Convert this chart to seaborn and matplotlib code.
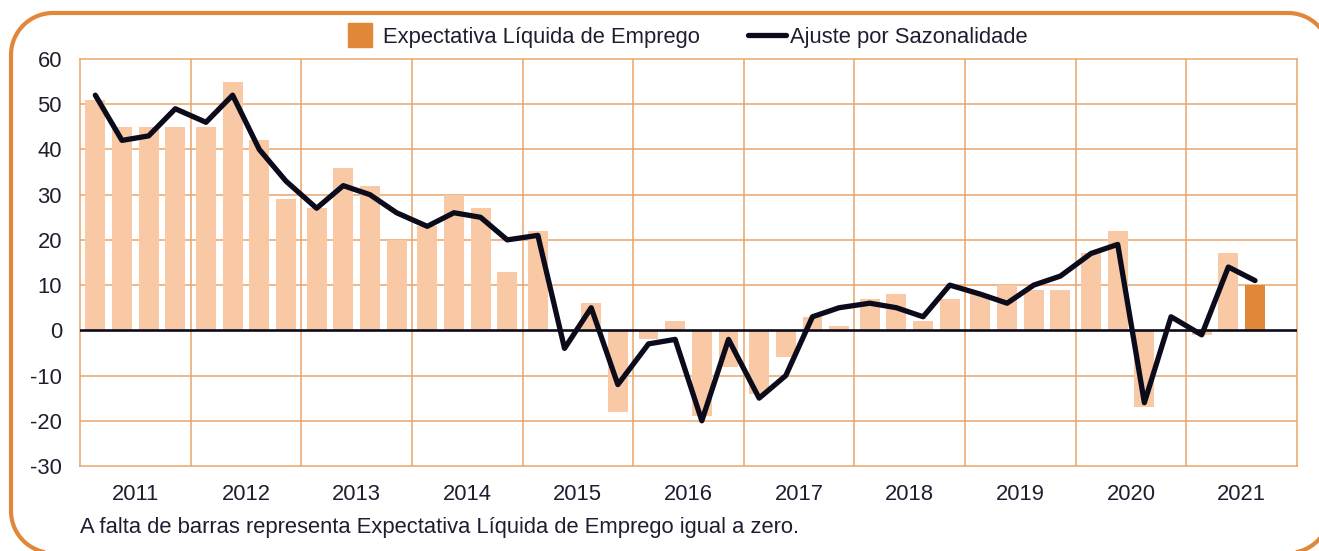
import numpy as np
import pandas as pd
import matplotlib
matplotlib.use("Agg")
import matplotlib.pyplot as plt
import matplotlib.transforms as mtransforms
from matplotlib.lines import Line2D
import seaborn as sns

# ---- data ----
years = ["2011", "2012", "2013", "2014", "2015", "2016", "2017", "2018", "2019", "2020", "2021"]
net_outlook = [51, 45, 45, 45,
               45, 55, 42, 29,
               27, 36, 32, 20,
               23, 30, 27, 13,
               22, 0, 6, -18,
               -2, 2, -19, -8,
               -14, -6, 3, 1,
               7, 8, 2, 7,
               8, 10, 9, 9,
               17, 22, -17, 0,
               -1, 17, 10]
seasonal_adj = [52, 42, 43, 49,
                46, 52, 40, 33,
                27, 32, 30, 26,
                23, 26, 25, 20,
                21, -4, 5, -12,
                -3, -2, -20, -2,
                -15, -10, 3, 5,
                6, 5, 3, 10,
                8, 6, 10, 12,
                17, 19, -16, 3,
                -1, 14, 11]
legend_labels = ["Expectativa Líquida de Emprego", "Ajuste por Sazonalidade"]
footnote = "A falta de barras representa Expectativa Líquida de Emprego igual a zero."
yticks = list(range(-30, 61, 10))

# ---- styling ----
LIGHT = "#F8C9A4"
DARK = "#E0873A"
GRID = "#EAA46A"
LINE = "#0B0B1C"
TEXT = "#1E1E30"
W, H = 1319, 551
FS = 15.8

sns.set_style("white")
plt.rcParams["font.family"] = ["Liberation Sans", "DejaVu Sans"]
plt.rcParams["axes.unicode_minus"] = False

n = len(net_outlook)
year_idx = np.arange(n) // 4
quarter = np.arange(n) % 4
xpos = year_idx + 0.5 + (quarter - 1.5) * 0.241
df = pd.DataFrame({
    "x": np.round(xpos, 4),
    "bar": net_outlook,
    "line": seasonal_adj,
    "hl": ["last" if i == n - 1 else "other" for i in range(n)],
})

fig = plt.figure(figsize=(W / 100, H / 100), dpi=100)
ax = fig.add_axes([80 / W, 1 - 466 / H, 1217 / W, 407 / H])

sns.barplot(data=df, x="x", y="bar", hue="hl", palette={"other": LIGHT, "last": DARK},
            native_scale=True, orient="x", dodge=False, width=0.747, saturation=1,
            errorbar=None, legend=False, ax=ax, zorder=2, linewidth=0)
ax.axhline(0, color=LINE, lw=1.9, zorder=3)
sns.lineplot(data=df, x="x", y="line", color=LINE, lw=3.8, ax=ax, zorder=4,
             solid_joinstyle="round", solid_capstyle="round", sort=False)

ax.set_xlim(0, len(years))
ax.set_ylim(-30, 60)
ax.set_yticks(yticks)
ax.set_yticklabels([str(v) for v in yticks])
ax.set_xticks(np.arange(len(years)) + 0.5)
ax.set_xticklabels(years)
ax.tick_params(axis="both", length=0, labelsize=FS, colors=TEXT)
ax.tick_params(axis="y", pad=13)
ax.tick_params(axis="x", pad=13)
ax.set_xlabel("")
ax.set_ylabel("")

for v in yticks[1:-1]:
    if v != 0:
        ax.axhline(v, color=GRID, lw=1.1, zorder=1)
for k in range(1, len(years)):
    ax.axvline(k, color=GRID, lw=1.1, zorder=1)
for s in ax.spines.values():
    s.set_visible(True)
    s.set_color(GRID)
    s.set_linewidth(1.1)
ax.grid(False)

# legend
handles = [
    Line2D([], [], marker="s", markersize=16.6, linestyle="none",
           markerfacecolor=DARK, markeredgecolor=DARK),
    Line2D([], [], color=LINE, lw=3.8, solid_capstyle="round"),
]
fig.legend(handles, legend_labels, loc="center left",
           bbox_to_anchor=(341.5 / W, 1 - 37 / H), ncol=2, frameon=False,
           fontsize=FS, handlelength=1.73, handletextpad=0.16,
           columnspacing=2.2, borderpad=0, borderaxespad=0,
           labelcolor=TEXT)

fig.text(80 / W, 1 - 527 / H, footnote, ha="left", va="center",
         fontsize=FS, color=TEXT)

# rounded frame drawn as a polyline in pixel coordinates (y measured from top)
px = mtransforms.Affine2D().scale(1 / W, -1 / H).translate(0, 1) + fig.transFigure
left, right, top, bottom, r = 11, 1330, 13, 553, 42
segs = []
for cx, cy, a0 in [(right - r, top + r, -90), (right - r, bottom - r, 0),
                   (left + r, bottom - r, 90), (left + r, top + r, 180)]:
    t = np.radians(np.linspace(a0, a0 + 90, 30))
    segs.append(np.column_stack([cx + r * np.cos(t), cy + r * np.sin(t)]))
pts = np.vstack(segs + [segs[0][:1]])
fig.add_artist(Line2D(pts[:, 0], pts[:, 1], transform=px, color=DARK, lw=3.0,
                      solid_joinstyle="round", clip_on=False))

fig.savefig("out.png", dpi=100)
